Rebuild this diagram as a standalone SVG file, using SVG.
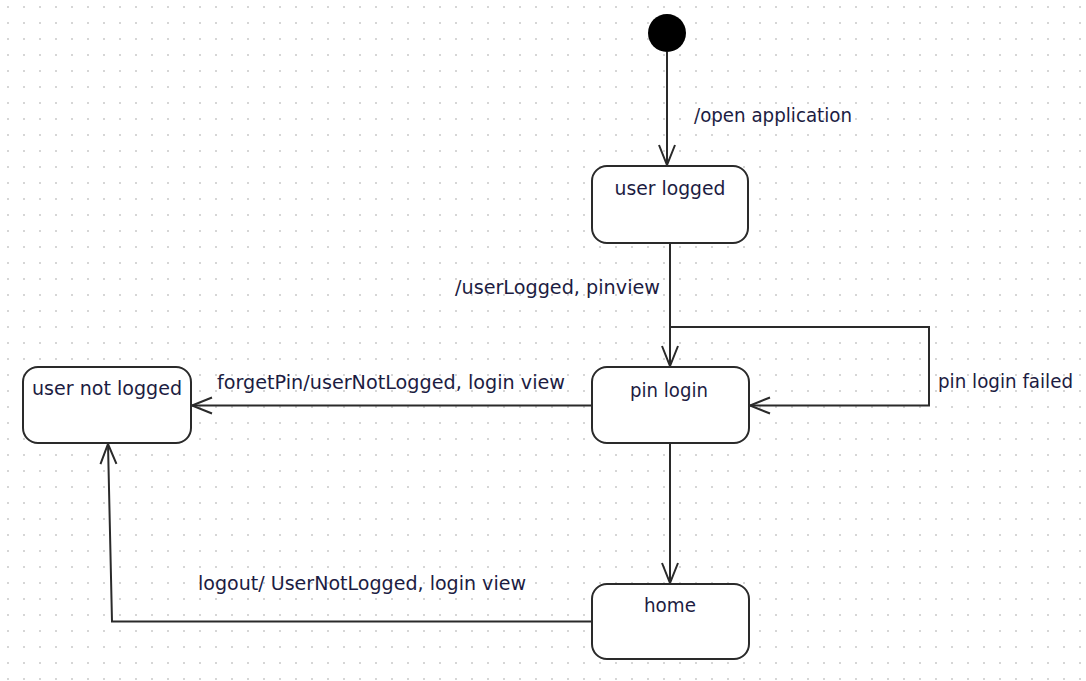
<svg xmlns="http://www.w3.org/2000/svg" width="1086" height="681" viewBox="0 0 1086 681">
  <style>
    .node { fill: #ffffff; stroke: #2a2a2a; stroke-width: 2; }
    .edge { fill: none; stroke: #2a2a2a; stroke-width: 2; }
    .txt { font-family: "DejaVu Sans", Verdana, sans-serif; font-size: 19px; fill: #1c1c42; }
    .mid { text-anchor: middle; }
  </style>
  <defs>
    <pattern id="grid" x="0" y="0" width="16" height="16" patternUnits="userSpaceOnUse">
      <rect x="7" y="6" width="2" height="2" fill="#d6d6d6"/>
    </pattern>
    <marker id="open" viewBox="-22 -10 24 20" refX="0" refY="0" markerWidth="24" markerHeight="20" markerUnits="userSpaceOnUse" orient="auto" overflow="visible">
      <path d="M-20,-8 L0,0 L-20,8" fill="none" stroke="#2a2a2a" stroke-width="2"/>
    </marker>
  </defs>
  <rect width="1086" height="681" fill="#ffffff"/>
  <rect width="1086" height="681" fill="url(#grid)"/>

  <g id="connectors">
    <path class="edge" d="M667,52 V165" marker-end="url(#open)"/>
    <path class="edge" d="M670,243 V366" marker-end="url(#open)"/>
    <path class="edge" d="M670,367 V327 H929 V405.5 H750" marker-end="url(#open)"/>
    <path class="edge" d="M592,405.5 H192" marker-end="url(#open)"/>
    <path class="edge" d="M670,443 V583" marker-end="url(#open)"/>
    <path class="edge" d="M592,621.5 H112 L108,444" marker-end="url(#open)"/>
    <text class="txt" x="694" y="122" textLength="158" lengthAdjust="spacingAndGlyphs">/open application</text>
    <text class="txt" x="455" y="294" textLength="205" lengthAdjust="spacingAndGlyphs">/userLogged, pinview</text>
    <text class="txt" x="217" y="389" textLength="348" lengthAdjust="spacingAndGlyphs">forgetPin/userNotLogged, login view</text>
    <text class="txt" x="938" y="388" textLength="135" lengthAdjust="spacingAndGlyphs">pin login failed</text>
    <text class="txt" x="198" y="590" textLength="328" lengthAdjust="spacingAndGlyphs">logout/ UserNotLogged, login view</text>
  </g>

  <g id="initial">
    <circle cx="667" cy="33" r="19" fill="#000000"/>
  </g>
  <g id="user-logged">
    <rect class="node" x="592" y="166" width="156" height="77" rx="15" ry="15"/>
    <text class="txt mid" x="670" y="195" textLength="111" lengthAdjust="spacingAndGlyphs">user logged</text>
  </g>
  <g id="pin-login">
    <rect class="node" x="592" y="367" width="157" height="76" rx="15" ry="15"/>
    <text class="txt mid" x="669" y="397" textLength="78" lengthAdjust="spacingAndGlyphs">pin login</text>
  </g>
  <g id="user-not-logged">
    <rect class="node" x="23" y="367" width="168" height="76" rx="15" ry="15"/>
    <text class="txt mid" x="107" y="395" textLength="150" lengthAdjust="spacingAndGlyphs">user not logged</text>
  </g>
  <g id="home">
    <rect class="node" x="592" y="584" width="157" height="75" rx="15" ry="15"/>
    <text class="txt mid" x="670" y="612" textLength="52" lengthAdjust="spacingAndGlyphs">home</text>
  </g>
</svg>
